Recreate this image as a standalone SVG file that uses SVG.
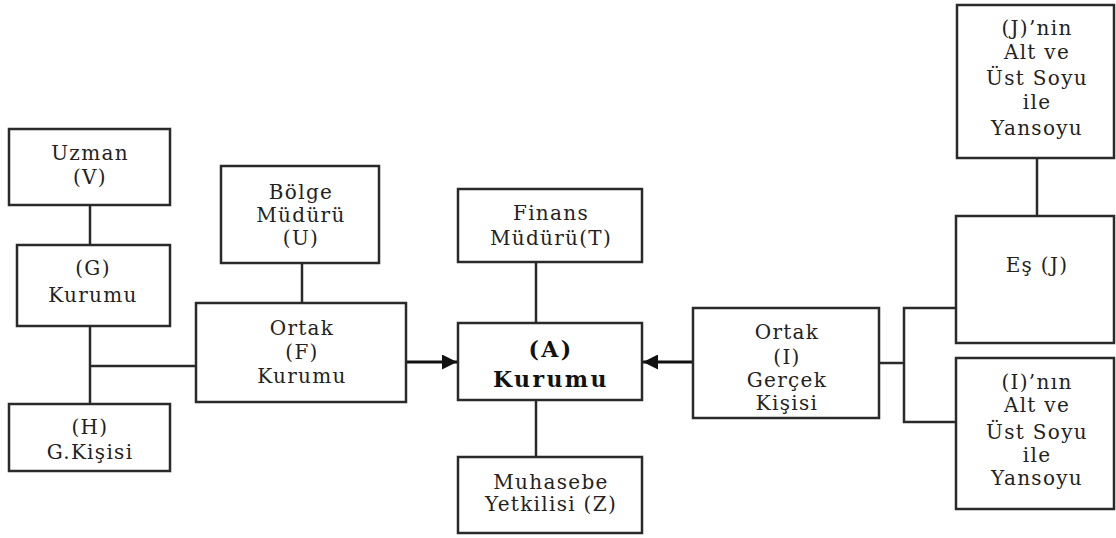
<svg xmlns="http://www.w3.org/2000/svg" width="1116" height="538" viewBox="0 0 1116 538">
<defs>
<style>
.box{fill:#fff;stroke:#2a2a2a;stroke-width:2.5}
.ln{fill:none;stroke:#2a2a2a;stroke-width:2.5}
.ar{fill:none;stroke:#111;stroke-width:3}
text{font-family:"DejaVu Serif","Liberation Serif",serif;font-size:20px;letter-spacing:1.3px;fill:#222;text-anchor:middle}
.b{font-weight:bold;font-size:22px;letter-spacing:2.4px;fill:#111}
</style>
<marker id="ah" viewBox="0 0 10 10" refX="10" refY="5" markerWidth="6.5" markerHeight="5" markerUnits="strokeWidth" orient="auto">
<path d="M0,0 L10,5 L0,10 z" fill="#111"/>
</marker>
</defs>
<rect width="1116" height="538" fill="#fff"/>
<g id="connectors">
<line class="ln" x1="90" y1="205" x2="90" y2="404"/>
<line class="ln" x1="90" y1="366" x2="196" y2="366"/>
<line class="ln" x1="302" y1="263" x2="302" y2="303"/>
<line class="ln" x1="536" y1="262" x2="536" y2="323"/>
<line class="ln" x1="536" y1="400" x2="536" y2="457"/>
<line class="ar" x1="406" y1="362" x2="457" y2="362" marker-end="url(#ah)"/>
<line class="ar" x1="693" y1="362" x2="643" y2="362" marker-end="url(#ah)"/>
<line class="ln" x1="879" y1="363" x2="904" y2="363"/>
<polyline class="ln" points="956,308 904,308 904,422 956,422"/>
<line class="ln" x1="1037" y1="158" x2="1037" y2="216"/>
</g>
<g id="uzman"><rect class="box" x="9" y="129" width="161" height="76"/><text x="90" y="160">Uzman</text><text x="90" y="184">(V)</text></g>
<g id="g-kurumu"><rect class="box" x="17" y="245" width="153" height="81"/><text x="93" y="275">(G)</text><text x="93" y="302">Kurumu</text></g>
<g id="h-kisisi"><rect class="box" x="9" y="404" width="161" height="67"/><text x="90" y="434">(H)</text><text x="90" y="459">G.Kişisi</text></g>
<g id="bolge"><rect class="box" x="221" y="166" width="158" height="97"/><text x="301" y="199">Bölge</text><text x="301" y="222">Müdürü</text><text x="301" y="245">(U)</text></g>
<g id="ortak-f"><rect class="box" x="196" y="303" width="210" height="99"/><text x="302" y="335">Ortak</text><text x="302" y="359">(F)</text><text x="302" y="383">Kurumu</text></g>
<g id="finans"><rect class="box" x="458" y="189" width="184" height="73"/><text x="551" y="220">Finans</text><text x="551" y="245">Müdürü(T)</text></g>
<g id="a-kurumu"><rect class="box" x="458" y="323" width="184" height="77"/><text class="b" x="551" y="357">(A)</text><text class="b" x="551" y="387">Kurumu</text></g>
<g id="muhasebe"><rect class="box" x="458" y="457" width="184" height="76"/><text x="551" y="489">Muhasebe</text><text x="551" y="511">Yetkilisi (Z)</text></g>
<g id="ortak-i"><rect class="box" x="693" y="308" width="186" height="110"/><text x="787" y="339">Ortak</text><text x="787" y="364">(I)</text><text x="787" y="387">Gerçek</text><text x="787" y="410">Kişisi</text></g>
<g id="j-soy"><rect class="box" x="957" y="5" width="157" height="153"/><text x="1037" y="35">(J)’nin</text><text x="1037" y="59">Alt ve</text><text x="1037" y="85">Üst Soyu</text><text x="1037" y="109">ile</text><text x="1037" y="135">Yansoyu</text></g>
<g id="es-j"><rect class="box" x="956" y="216" width="158" height="127"/><text x="1037" y="272">Eş (J)</text></g>
<g id="i-soy"><rect class="box" x="956" y="358" width="158" height="151"/><text x="1037" y="389">(I)’nın</text><text x="1037" y="412">Alt ve</text><text x="1037" y="439">Üst Soyu</text><text x="1037" y="462">ile</text><text x="1037" y="485">Yansoyu</text></g>
</svg>
